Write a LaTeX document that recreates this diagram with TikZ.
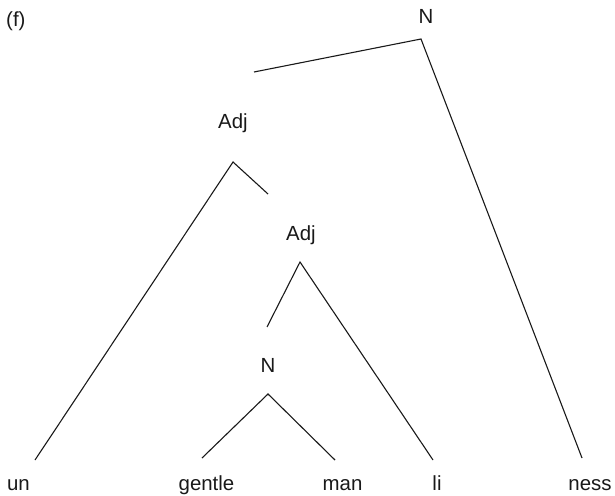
\documentclass[tikz,border=0pt]{standalone}
\usepackage{fontspec}
\setmainfont{Liberation Sans}
\begin{document}
\begin{tikzpicture}[x=1bp,y=-1bp,
  lbl/.style={anchor=base,inner sep=0pt,font=\fontsize{20.5}{20.5}\selectfont,text=black!90},
  branch/.style={draw=black!90,line width=1.1bp}]
\useasboundingbox (0,0) rectangle (615,496);

% panel tag
\node[lbl,anchor=base west] (tag) at (6,27) {(f)};

% category labels
\node[lbl] (ntop) at (426,23.5) {N};
\node[lbl] (adjA) at (233,129) {Adj};
\node[lbl] (adjB) at (301,241) {Adj};
\node[lbl] (nlow) at (268,372) {N};

% morphemes
\node[lbl] (un) at (18.5,490) {un};
\node[lbl] (gentle) at (206.5,490) {gentle};
\node[lbl] (man) at (342.5,490) {man};
\node[lbl] (li) at (437,490) {li};
\node[lbl] (ness) at (590,490) {ness};

% branching points and branch ends
\coordinate (ntop-a) at (421,39);
\coordinate (ntop-l) at (254,72);
\coordinate (adjA-a) at (233,162);
\coordinate (adjA-r) at (268,194);
\coordinate (adjB-a) at (300,262);
\coordinate (adjB-l) at (267,327);
\coordinate (nlow-a) at (268,394);
\coordinate (un-t) at (35,460);
\coordinate (gentle-t) at (202,458);
\coordinate (man-t) at (335,460);
\coordinate (li-t) at (433,460);
\coordinate (ness-t) at (582,458);

% branches
\draw[branch] (ntop-l) -- (ntop-a) -- (ness-t);
\draw[branch] (un-t) -- (adjA-a) -- (adjA-r);
\draw[branch] (adjB-l) -- (adjB-a) -- (li-t);
\draw[branch] (gentle-t) -- (nlow-a) -- (man-t);
\end{tikzpicture}
\end{document}
